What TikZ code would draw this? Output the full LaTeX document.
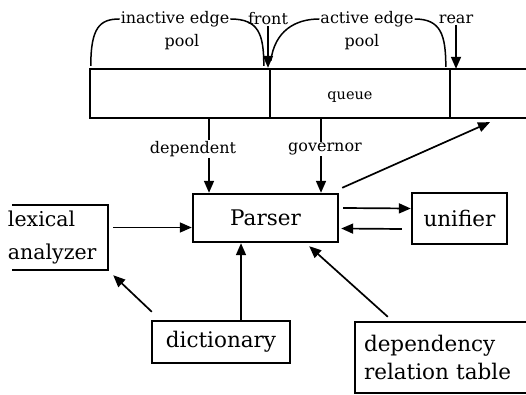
\documentclass[tikz,border=0pt]{standalone}
\usepackage{tikz}
\usepackage{fontspec}
\setmainfont{DejaVu Serif}
\usetikzlibrary{arrows.meta,positioning,calc}

\begin{document}
\begin{tikzpicture}[x=1pt,y=-1pt,
    box/.style={draw, line width=2.4pt, inner sep=0pt},
    big/.style={font=\fontsize{21.5}{30}\selectfont},
    small/.style={font=\fontsize{16}{18}\selectfont, inner sep=1pt},
    arr/.style={-{Triangle[length=12pt,width=10pt]}, line width=1.7pt},
    brace/.style={line width=1.5pt}]
    \useasboundingbox (0,0) rectangle (526,395);

    \node[box, minimum width=180pt, minimum height=49pt] (cin) at (180,93.5) {};
    \node[box, minimum width=180pt, minimum height=49pt] (cact) at (360,93.5) {};
    \node[minimum width=76pt, minimum height=49pt, inner sep=0pt] (crear) at (488,93.5) {};
    \draw[line width=2.4pt] (crear.north west) -- (crear.north east)
        (crear.south west) -- (crear.south east);
    \node[small, font=\fontsize{14.5}{16}\selectfont] (queue) at (350,97) {queue};

    \node[small] (inact) at (175,19) {inactive edge};
    \node[small] (inpool) at (182,42) {pool};
    \node[small] (act) at (367,19) {active edge};
    \node[small] (actpool) at (362,42) {pool};
    \node[small] (front) at (268,19) {front};
    \node[small] (rear) at (456,19) {rear};
    \node[small] (dep) at (193,149) {dependent};
    \node[small] (gov) at (325,149) {governor};

    \node[box, big, minimum width=145pt, minimum height=48pt] (parser) at (265.5,218) {Parser};
    \node[box, big, minimum width=95pt, minimum height=51pt] (unifier) at (459.5,218.5) {unifier};
    \node[big, font=\fontsize{20.5}{33}\selectfont, minimum width=100pt, minimum height=65pt,
          inner sep=0pt, text width=100pt, align=left] (lex) at (58,237.5) {lexical\\analyzer};
    \draw[line width=2.4pt] ([xshift=4pt]lex.north west) -- (lex.north east)
        -- (lex.south east) -- ([xshift=4pt]lex.south west);
    \node[box, big, minimum width=138pt, minimum height=42pt] (dict) at (221,342) {dictionary};
    \node[box, big, minimum width=172pt, minimum height=71pt,
          text width=154pt, align=left] (deptab) at (441,357.5) {dependency\\[-2pt]relation table};

    \draw[brace] ([xshift=2pt,yshift=2pt]cin.north west) .. controls +(0,-38) and +(-20,0) .. (inact.west);
    \draw[brace] (inact.east) .. controls +(28,0) and +(0,-32) .. ([xshift=-5pt,yshift=2pt]cact.north west);
    \draw[brace] ([xshift=2pt,yshift=7pt]cact.north west) .. controls +(4,-30) and +(-24,0) .. (act.west);
    \draw[brace] (act.east) .. controls +(26,0) and +(0,-32) .. ([xshift=-4pt,yshift=2pt]crear.north west);

    \draw[arr] (front.south) -- (front.south |- cact.north);
    \draw[arr] (rear.south) -- (rear.south |- crear.north);

    \draw[line width=1.7pt] ([xshift=29pt]cin.south) coordinate (q1) -- (q1 |- dep.north);
    \draw[arr] (q1 |- dep.south) -- (q1 |- parser.north);
    \draw[line width=1.7pt] ([xshift=-39pt]cact.south) coordinate (q2) -- (q2 |- gov.north);
    \draw[arr] (q2 |- gov.south) -- (q2 |- parser.north);
    \draw[arr] ([xshift=3pt,yshift=5pt]parser.north east) -- ([xshift=2pt,yshift=-4pt]crear.south);

    \draw[arr] ([xshift=5pt,yshift=10pt]lex.east) coordinate (l1) -- (l1 -| parser.west);
    \draw[arr] ([xshift=4pt,yshift=10pt]parser.east) -- ([yshift=10pt]unifier.west);
    \draw[arr] ([xshift=-9pt,yshift=-10.5pt]unifier.west) -- ([xshift=2pt,yshift=-10.5pt]parser.east);
    \draw[arr] ([xshift=20pt]dict.north) coordinate (d1) -- (d1 |- parser.south);
    \draw[arr] ([xshift=1pt,yshift=8pt]dict.north west) -- ([xshift=5pt,yshift=-5pt]lex.south east);
    \draw[arr] ([xshift=34pt,yshift=4pt]deptab.north west) -- ([xshift=-30pt,yshift=-3pt]parser.south east);
\end{tikzpicture}
\end{document}
